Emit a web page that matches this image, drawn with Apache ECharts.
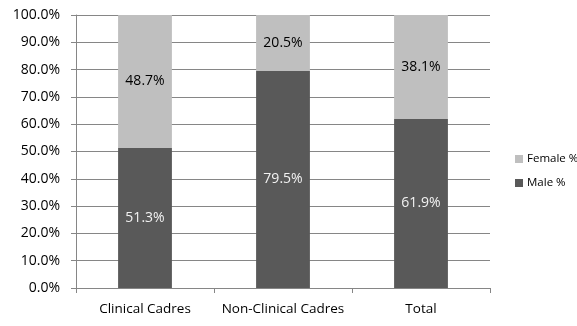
<!DOCTYPE html>
<html>
<head>
<meta charset="utf-8">
<script src="https://cdn.jsdelivr.net/npm/echarts@6/dist/echarts.min.js"></script>
<style>
html,body{margin:0;padding:0;background:#fff;}
#chart{width:577px;height:326px;}
</style>
</head>
<body>
<div id="chart"></div>
<script>
// Share of staff by gender in each cadre group
const categories = ['Clinical Cadres', 'Non-Clinical Cadres', 'Total'];
const malePct = [51.3, 79.5, 61.9];
const femalePct = [48.7, 20.5, 38.1];
const yTicks = [0, 10, 20, 30, 40, 50, 60, 70, 80, 90, 100];

const font = '"Open Sans", "Noto Sans", sans-serif';
const chart = echarts.init(document.getElementById('chart'), null, { renderer: 'canvas' });

chart.setOption({
  animation: false,
  backgroundColor: '#ffffff',
  textStyle: { fontFamily: font },
  grid: { left: 76, right: 87, top: 15, bottom: 38 },
  legend: {
    orient: 'vertical',
    left: 510,
    top: 148,
    itemWidth: 8,
    itemHeight: 8,
    itemGap: 12,
    icon: 'rect',
    data: ['Female %', 'Male %'],
    textStyle: { fontFamily: font, fontSize: 11.5, color: '#000', padding: [0, 0, 0, -1] }
  },
  xAxis: {
    type: 'category',
    data: categories,
    axisLine: { lineStyle: { color: '#868686', width: 1 } },
    axisTick: { show: true, alignWithLabel: false, length: 5, lineStyle: { color: '#868686' } },
    axisLabel: { fontFamily: font, fontSize: 13.5, color: '#000', margin: 14, interval: 0, hideOverlap: false }
  },
  yAxis: {
    type: 'value',
    min: yTicks[0],
    max: yTicks[yTicks.length - 1],
    interval: yTicks[1] - yTicks[0],
    axisLine: { show: true, lineStyle: { color: '#868686', width: 1 } },
    axisTick: { show: true, length: 5, lineStyle: { color: '#868686' } },
    splitLine: { lineStyle: { color: '#868686', width: 1 } },
    axisLabel: {
      fontFamily: font, fontSize: 14, color: '#000', margin: 16,
      formatter: v => v.toFixed(1) + '%'
    }
  },
  series: [
    {
      name: 'Male %',
      type: 'bar',
      stack: 'all',
      barWidth: '39%',
      data: malePct,
      itemStyle: { color: '#595959' },
      label: {
        show: true, position: 'inside', fontFamily: font, fontSize: 14, color: '#f2f2f2',
        formatter: p => p.value.toFixed(1) + '%'
      }
    },
    {
      name: 'Female %',
      type: 'bar',
      stack: 'all',
      barWidth: '39%',
      data: femalePct,
      itemStyle: { color: '#bfbfbf' },
      label: {
        show: true, position: 'inside', fontFamily: font, fontSize: 14, color: '#000000',
        formatter: p => p.value.toFixed(1) + '%'
      }
    }
  ]
});
</script>
</body>
</html>
